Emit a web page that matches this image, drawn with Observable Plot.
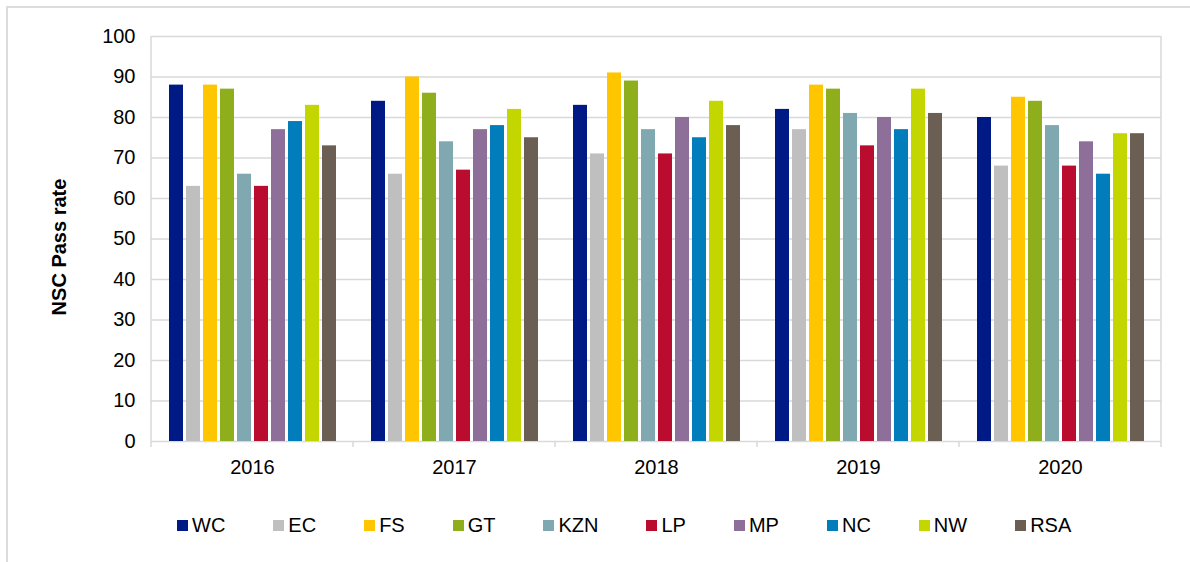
<!DOCTYPE html>
<html>
<head>
<meta charset="utf-8">
<script src="https://cdn.jsdelivr.net/npm/d3@7"></script>
<script src="https://cdn.jsdelivr.net/npm/@observablehq/plot@0.6"></script>
<style>
  html, body { margin: 0; padding: 0; background: #fff; overflow: hidden; width: 1190px; height: 562px; }
  body { font-family: "Liberation Sans", Arial, sans-serif; position: relative; }
  #outer { position: absolute; left: 6px; top: 6px; width: 1300px; height: 700px; border-left: 2px solid #dcdcdc; border-top: 2px solid #dcdcdc; }
  #chart { position: absolute; left: 0; top: 0; }
  #legend { position: absolute; left: 177px; top: 514px; display: flex; align-items: center; font-size: 20px; line-height: 22px; color: #000; }
  #legend .item { display: flex; align-items: center; margin-right: 48px; }
  #legend .sw { width: 11px; height: 11px; margin-right: 4px; }
  g[aria-label="y-axis label"] text { font-weight: bold; }
</style>
</head>
<body>
<div id="outer"></div>
<div id="chart"></div>
<div id="legend"></div>
<script>
// ---- Data ----
const years = ["2016", "2017", "2018", "2019", "2020"];
const provinces = ["WC", "EC", "FS", "GT", "KZN", "LP", "MP", "NC", "NW", "RSA"];
const colors = ["#001A85", "#BFBFBF", "#FFC600", "#8FAE1B", "#80A8B0", "#BA0C2F", "#8E6F99", "#007DBA", "#C4D600", "#6B5E53"];
const yTicks = [0, 10, 20, 30, 40, 50, 60, 70, 80, 90, 100];

const WC  = [88, 84, 83, 82, 80];
const EC  = [63, 66, 71, 77, 68];
const FS  = [88, 90, 91, 88, 85];
const GT  = [87, 86, 89, 87, 84];
const KZN = [66, 74, 77, 81, 78];
const LP  = [63, 67, 71, 73, 68];
const MP  = [77, 77, 80, 80, 74];
const NC  = [79, 78, 75, 77, 66];
const NW  = [83, 82, 84, 87, 76];
const RSA = [73, 75, 78, 81, 76];

const series = {WC, EC, FS, GT, KZN, LP, MP, NC, NW, RSA};
const rows = provinces.flatMap(p => years.map((y, j) => ({year: y, province: p, value: series[p][j]})));

const gridColor = "#d9d9d9";

const chart = Plot.plot({
  width: 1190,
  height: 490,
  marginLeft: 150,
  marginRight: 28,
  marginTop: 36,
  marginBottom: 49,
  style: {fontFamily: "'Liberation Sans', Arial, sans-serif", fontSize: "20px", color: "#000", background: "transparent", overflow: "visible"},
  fx: {domain: years, padding: 0, axis: "bottom", tickSize: 0, tickPadding: 18, label: null},
  x: {domain: provinces, paddingInner: 0.2, paddingOuter: 0.9, axis: null},
  y: {domain: [0, 100], ticks: yTicks, tickSize: 0, tickPadding: 16, label: "NSC Pass rate", labelAnchor: "center", labelOffset: 100, labelArrow: false},
  color: {domain: provinces, range: colors},
  marks: [
    Plot.ruleY(yTicks, {stroke: gridColor, strokeWidth: 1.5}),
    Plot.barY(rows, {fx: "year", x: "province", y: "value", fill: "province"})
  ]
});

document.getElementById("chart").appendChild(chart);

// frame sides and group-boundary ticks from the library's scales
const svg = d3.select(chart.tagName.toLowerCase() === "svg" ? chart : chart.querySelector("svg"));
const fx = chart.scale("fx");
const y = chart.scale("y");
const bw = fx.bandwidth;
const bounds = years.map(v => fx.apply(v)).concat([fx.apply(years[years.length - 1]) + bw]);
const y0 = y.apply(0), y100 = y.apply(100);
const g = svg.append("g").attr("stroke", gridColor).attr("stroke-width", 1.5);
[bounds[0], bounds[bounds.length - 1]].forEach(x => {
  g.append("line").attr("x1", x).attr("x2", x).attr("y1", y100).attr("y2", y0);
});
bounds.forEach(x => {
  g.append("line").attr("x1", x).attr("x2", x).attr("y1", y0).attr("y2", y0 + 6);
});

// nudge the y-axis title down slightly, as in the reference
svg.selectAll('g[aria-label="y-axis label"]').each(function() {
  const el = d3.select(this);
  el.attr("transform", ((el.attr("transform") || "") + " translate(0,8)").trim());
});

// legend
const legend = document.getElementById("legend");
provinces.forEach((p, i) => {
  const item = document.createElement("div");
  item.className = "item";
  const sw = document.createElement("span");
  sw.className = "sw";
  sw.style.background = colors[i];
  const t = document.createElement("span");
  t.textContent = p;
  item.appendChild(sw);
  item.appendChild(t);
  legend.appendChild(item);
});
</script>
</body>
</html>
